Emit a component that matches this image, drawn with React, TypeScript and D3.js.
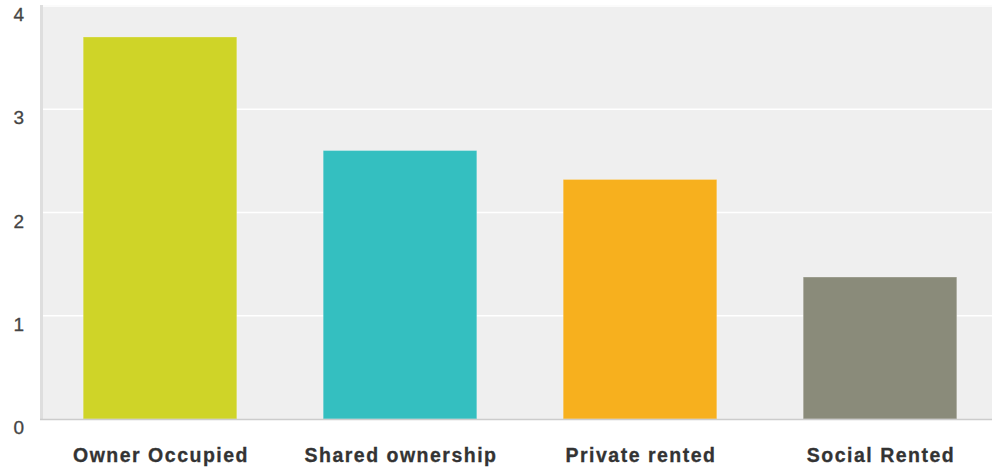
import React from "react";
import * as d3 from "d3";

const categories = ["Owner Occupied", "Shared ownership", "Private rented", "Social Rented"];
const values = [3.7, 2.6, 2.32, 1.375];
const colors = ["#cfd428", "#34bfc0", "#f7b01e", "#8a8b7a"];
const yTicks = [0, 1, 2, 3, 4];

const W = 992;
const H = 471;
const plotLeft = 40;
const plotRight = 1000;
const plotTop = 5;
const plotBottom = 419;

export default function App() {
  const x = d3
    .scaleBand<string>()
    .domain(categories)
    .range([plotLeft, plotRight])
    .paddingInner(0.36)
    .paddingOuter(0.18);
  const y = d3.scaleLinear().domain([0, 4]).range([plotBottom, 6]);

  return (
    <svg
      width={W}
      height={H}
      style={{ position: "absolute", left: 0, top: 0, background: "#fff" }}
      fontFamily="'Liberation Sans', Arial, sans-serif"
    >
      <rect x={plotLeft} y={plotTop} width={W - plotLeft} height={plotBottom - plotTop} fill="#efefef" />
      {yTicks.map((t) =>
        t > 0 ? (
          <line key={"g" + t} x1={plotLeft} x2={W} y1={y(t)} y2={y(t)} stroke="#ffffff" strokeWidth={1.5} />
        ) : null
      )}
      {categories.map((c, i) => (
        <rect
          key={c}
          x={x(c)!}
          y={y(values[i])}
          width={x.bandwidth()}
          height={plotBottom - y(values[i])}
          fill={colors[i]}
          stroke="rgba(255,255,255,0.25)"
          strokeWidth={1}
        />
      ))}
      <rect x={plotLeft} y={plotTop} width={3} height={plotBottom - plotTop + 1} fill="#dedede" />
      <line x1={plotLeft} x2={W} y1={plotBottom + 0.5} y2={plotBottom + 0.5} stroke="#cccccc" strokeWidth={1.5} />
      {yTicks.map((t) => (
        <text
          key={"t" + t}
          x={24}
          y={y(t) + 15}
          textAnchor="end"
          fontSize={19}
          fill="#444"
          stroke="#444"
          strokeWidth={0.3}
        >
          {t}
        </text>
      ))}
      {categories.map((c) => (
        <text
          key={"l" + c}
          x={x(c)! + x.bandwidth() / 2 + 1}
          y={462}
          textAnchor="middle"
          fontSize={19.5}
          fontWeight="bold"
          letterSpacing={1.5}
          fill="#333"
          stroke="#333"
          strokeWidth={0.3}
        >
          {c}
        </text>
      ))}
    </svg>
  );
}
